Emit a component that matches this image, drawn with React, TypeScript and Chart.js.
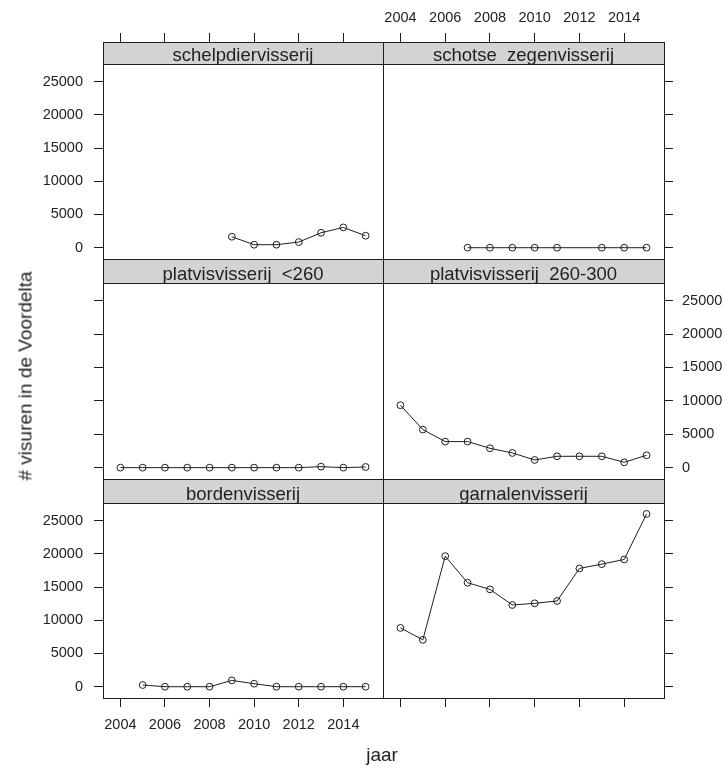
import React, { useEffect, useRef } from "react";
import { Chart, registerables } from "chart.js";

Chart.register(...registerables);

// ---- data ----
const years = [2004, 2005, 2006, 2007, 2008, 2009, 2010, 2011, 2012, 2013, 2014, 2015];

const schelpdiervisserij = [null, null, null, null, null, 1650, 450, 450, 850, 2250, 3050, 1800];
const schotseZegenvisserij = [null, null, null, 0, 0, 0, 0, 0, null, 0, 0, 0];
const platvisKlein = [0, 0, 0, 0, 0, 0, 0, 0, 0, 150, 0, 100];
const platvisMiddel = [9350, 5700, 3900, 3900, 2900, 2200, 1150, 1700, 1700, 1700, 800, 1850];
const bordenvisserij = [null, 250, 0, 0, 0, 950, 450, 0, 0, 0, 0, 0];
const garnalenvisserij = [8850, 7050, 19650, 15650, 14650, 12300, 12550, 12900, 17800, 18450, 19150, 26000];

const panelTitles = [
  "schelpdiervisserij",
  "schotse  zegenvisserij",
  "platvisvisserij  <260",
  "platvisvisserij  260-300",
  "bordenvisserij",
  "garnalenvisserij",
];
const panelSeries = [
  schelpdiervisserij,
  schotseZegenvisserij,
  platvisKlein,
  platvisMiddel,
  bordenvisserij,
  garnalenvisserij,
];

const xTickYears = [2004, 2006, 2008, 2010, 2012, 2014];
const yTickValues = [0, 5000, 10000, 15000, 20000, 25000];
const yAxisTitle = "# visuren in de Voordelta";
const xAxisTitle = "jaar";

// ---- layout ----
const PAGE_W = 725;
const PAGE_H = 769;
const COL_X = [103, 383, 664];
const ROW_Y = [42, 259, 479, 698];
const STRIP_H = [22, 24, 24];
const X_MIN = 2003.22;
const X_MAX = 2015.78;
const Y_MIN = -1700;
const Y_DATA_MAX = 27650;
const OVERLAP = 2;

const INK = "#1e1e1e";
const TEXT = "#222222";
const STRIP_FILL = "#d3d3d3";
const FONT_FAMILY = '"Liberation Sans", Arial, Helvetica, sans-serif';

type PanelProps = { title: string; values: (number | null)[]; row: number; col: number };

function zeroPadding(s: any) {
  s.paddingLeft = 0;
  s.paddingRight = 0;
  s.paddingTop = 0;
  s.paddingBottom = 0;
}

function Panel({ title, values, row, col }: PanelProps) {
  const ref = useRef<HTMLCanvasElement>(null);
  const left = col === 0 ? 0 : COL_X[1] - OVERLAP;
  const right = col === 0 ? COL_X[1] + OVERLAP : PAGE_W;
  const top = row === 0 ? 0 : ROW_Y[row] - OVERLAP;
  const bottom = row === 2 ? PAGE_H : ROW_Y[row + 1] + OVERLAP;
  const w = right - left;
  const h = bottom - top;

  useEffect(() => {
    if (!ref.current) return;
    const stripH = STRIP_H[row];
    const dataH = ROW_Y[row + 1] - ROW_Y[row] - stripH;
    // the strip sits inside the panel box, above the data region
    const yMax = Y_DATA_MAX + (stripH * (Y_DATA_MAX - Y_MIN)) / dataH;
    const showXAxis = row !== 1;
    const showXLabels = (row === 0 && col === 1) || (row === 2 && col === 0);
    const showYLabels = (col === 0 && row !== 1) || (col === 1 && row === 1);
    const xAxisH = row === 0 ? ROW_Y[0] : row === 2 ? PAGE_H - ROW_Y[3] : 0;

    const panelDecor = {
      id: "panelDecor",
      beforeDatasetsDraw(chart: any) {
        const { ctx, chartArea: a } = chart;
        ctx.save();
        ctx.fillStyle = STRIP_FILL;
        ctx.fillRect(a.left, a.top, a.right - a.left, stripH);
        ctx.strokeStyle = INK;
        ctx.lineWidth = 1;
        ctx.beginPath();
        ctx.moveTo(a.left, a.top + stripH + 0.5);
        ctx.lineTo(a.right, a.top + stripH + 0.5);
        ctx.stroke();
        ctx.fillStyle = TEXT;
        ctx.font = `18.5px ${FONT_FAMILY}`;
        ctx.textAlign = "center";
        ctx.textBaseline = "alphabetic";
        ctx.fillText(title, (a.left + a.right) / 2, a.top + stripH - 3.5);
        ctx.restore();
      },
      afterDraw(chart: any) {
        const { ctx, chartArea: a } = chart;
        ctx.save();
        ctx.strokeStyle = INK;
        ctx.lineWidth = 1;
        ctx.strokeRect(a.left + 0.5, a.top + 0.5, a.right - a.left, a.bottom - a.top);
        ctx.restore();
      },
    };

    const tickFont = { family: FONT_FAMILY, size: 14.5 };

    const chart = new Chart(ref.current, {
      type: "line",
      data: {
        datasets: [
          {
            data: years.map((x, i) => ({ x, y: values[i] })),
            borderColor: INK,
            borderWidth: 1,
            pointRadius: 3.4,
            pointBorderWidth: 1,
            pointBorderColor: INK,
            pointBackgroundColor: "rgba(0,0,0,0)",
            fill: false,
            tension: 0,
            spanGaps: true,
          } as any,
        ],
      },
      options: {
        animation: false,
        responsive: false,
        devicePixelRatio: 1,
        events: [],
        layout: {
          autoPadding: false,
          padding: {
            left: col === 1 ? OVERLAP : 0,
            right: col === 0 ? OVERLAP : 0,
            top: row > 0 ? OVERLAP : 0,
            bottom: row < 2 ? OVERLAP : 0,
          },
        } as any,
        plugins: {
          legend: { display: false },
          tooltip: { enabled: false },
          title: { display: false },
        },
        scales: {
          x: {
            type: "linear",
            min: X_MIN,
            max: X_MAX,
            display: showXAxis,
            position: row === 0 ? "top" : "bottom",
            afterBuildTicks: (s: any) => {
              s.ticks = xTickYears.map((v) => ({ value: v }));
            },
            afterFit: (s: any) => {
              s.height = xAxisH;
              zeroPadding(s);
            },
            grid: { drawOnChartArea: false, drawTicks: true, tickLength: 9, color: INK, lineWidth: 1 },
            border: { display: false },
            ticks: {
              autoSkip: false,
              maxRotation: 0,
              minRotation: 0,
              padding: row === 0 ? 6 : 9,
              color: showXLabels ? TEXT : "rgba(0,0,0,0)",
              font: tickFont,
              callback: (v: any) => String(v),
            },
          },
          y: {
            type: "linear",
            min: Y_MIN,
            max: yMax,
            position: col === 0 ? "left" : "right",
            afterBuildTicks: (s: any) => {
              s.ticks = yTickValues.map((v) => ({ value: v }));
            },
            afterFit: (s: any) => {
              s.width = col === 0 ? COL_X[0] : PAGE_W - COL_X[2];
              zeroPadding(s);
            },
            grid: { drawOnChartArea: false, drawTicks: true, tickLength: 9, color: INK, lineWidth: 1 },
            border: { display: false },
            ticks: {
              autoSkip: false,
              padding: col === 0 ? 11 : 9,
              color: showYLabels ? TEXT : "rgba(0,0,0,0)",
              font: tickFont,
              callback: (v: any) => String(v),
            },
          },
        } as any,
      },
      plugins: [panelDecor],
    });
    return () => chart.destroy();
  }, [title, values, row, col]);

  return (
    <canvas
      ref={ref}
      width={w}
      height={h}
      style={{ position: "absolute", left, top, width: w, height: h, display: "block" }}
    />
  );
}

export default function App() {
  return (
    <div
      style={{
        position: "absolute",
        left: 0,
        top: 0,
        width: PAGE_W,
        height: PAGE_H,
        background: "#ffffff",
        overflow: "hidden",
      }}
    >
      {panelTitles.map((t, i) => (
        <Panel key={t} title={t} values={panelSeries[i]} row={Math.floor(i / 2)} col={i % 2} />
      ))}
      <div
        style={{
          position: "absolute",
          left: 25,
          top: 376,
          transform: "translate(-50%, -50%) rotate(-90deg)",
          whiteSpace: "pre",
          font: `19px ${FONT_FAMILY}`,
          lineHeight: "19px",
          color: TEXT,
        }}
      >
        {yAxisTitle}
      </div>
      <div
        style={{
          position: "absolute",
          left: 382,
          top: 745,
          transform: "translateX(-50%)",
          whiteSpace: "pre",
          font: `19px ${FONT_FAMILY}`,
          lineHeight: "19px",
          color: TEXT,
        }}
      >
        {xAxisTitle}
      </div>
    </div>
  );
}
